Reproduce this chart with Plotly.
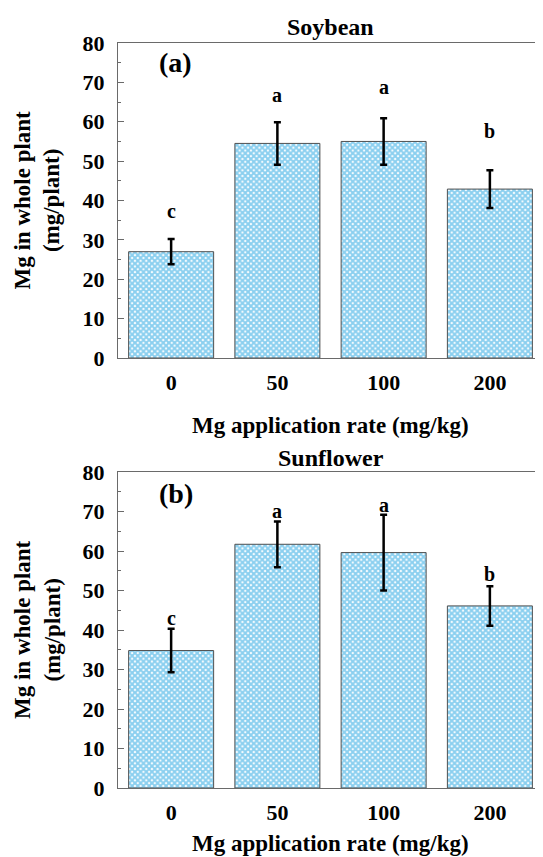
import plotly.graph_objects as go
from plotly.subplots import make_subplots

categories = ["0", "50", "100", "200"]
soy_values = [27.0, 54.5, 55.0, 42.9]
soy_errors = [3.2, 5.4, 5.9, 4.8]
soy_letters = ["c", "a", "a", "b"]
soy_letter_y = [36.7, 66.2, 68.3, 57.1]

sun_values = [34.8, 61.7, 59.6, 46.1]
sun_errors = [5.5, 5.8, 9.6, 5.0]
sun_letters = ["c", "a", "a", "b"]
sun_letter_y = [42.6, 69.6, 71.1, 53.6]

panel_titles = ["Soybean", "Sunflower"]
panel_tags = ["(a)", "(b)"]
y_ticks = [0, 10, 20, 30, 40, 50, 60, 70, 80]
x_title = "Mg application rate (mg/kg)"
y_title = "Mg in whole plant<br>(mg/plant)"

FONT = "Liberation Serif"
OFF = 8  # page body margin
W, H = 543 - OFF, 857 - OFF
L, R, T = 118 - OFF, 0, 43 - OFF
B = H - (788 - OFF)
plot_h = H - T - B

def py(pix):
    return (H - B - (pix - OFF)) / plot_h

def px(pix):
    return (pix - OFF - L) / (W - L - R)

fig = make_subplots(rows=2, cols=1, vertical_spacing=0.0)

top_dom = [py(358), 1.0]
bot_dom = [0.0, py(472)]

for i, (vals, errs) in enumerate([(soy_values, soy_errors), (sun_values, sun_errors)]):
    fig.add_trace(go.Bar(
        x=categories, y=vals,
        marker=dict(
            color="white",
            line=dict(color="#505050", width=1),
            pattern=dict(shape="x", fgcolor="#169fe0", bgcolor="white", size=4, solidity=0.75),
        ),
        error_y=dict(type="data", array=errs, visible=True, color="black", thickness=2.5, width=3.5),
        showlegend=False,
    ), row=i + 1, col=1)

axis_common = dict(
    showline=True, linecolor="#6a6a6a", linewidth=1, mirror=True,
    showgrid=False, zeroline=False,
)

for r in (1, 2):
    fig.update_xaxes(
        range=[-0.5, 3.5], ticks="",
        tickfont=dict(family=FONT, size=22, color="black", weight="bold"),
        ticklabelstandoff=5,
        row=r, col=1, **axis_common)
    fig.update_yaxes(
        range=[0, 80], tickvals=y_ticks, ticks="inside", ticklen=6, tickcolor="#6a6a6a",
        minor=dict(ticks="inside", ticklen=3, dtick=5, tickcolor="#6a6a6a"),
        tickfont=dict(family=FONT, size=22, color="black", weight="bold"),
        ticklabelstandoff=8,
        row=r, col=1, **axis_common)

fig.update_layout(
    width=W, height=H,
    margin=dict(l=L, r=R, t=T, b=B),
    paper_bgcolor="white", plot_bgcolor="white",
    bargap=0.2,
    yaxis=dict(domain=top_dom),
    yaxis2=dict(domain=bot_dom),
    font=dict(family=FONT, color="black"),
)

ann = []
for i, letters, ly in [(0, soy_letters, soy_letter_y), (1, sun_letters, sun_letter_y)]:
    xr = "x" if i == 0 else "x2"
    yr = "y" if i == 0 else "y2"
    for k, (t, y) in enumerate(zip(letters, ly)):
        ann.append(dict(x=k, y=y, xref=xr, yref=yr, text=t, showarrow=False, yshift=2,
                        font=dict(family=FONT, size=20, color="black", weight="bold")))

bold = lambda s: dict(family=FONT, size=s, color="black", weight="bold")
# panel titles
ann.append(dict(x=0.5, y=py(27), xref="paper", yref="paper", text=panel_titles[0], showarrow=False,
                font=bold(24), yanchor="middle"))
ann.append(dict(x=0.5, y=py(458), xref="paper", yref="paper", text=panel_titles[1], showarrow=False,
                font=bold(24), yanchor="middle"))
# panel tags
ann.append(dict(x=px(157), y=py(63), xref="paper", yref="paper", text=panel_tags[0], showarrow=False,
                font=bold(28), yanchor="middle"))
ann.append(dict(x=px(157), y=py(493), xref="paper", yref="paper", text=panel_tags[1], showarrow=False,
                font=bold(28), yanchor="middle"))
# x titles
ann.append(dict(x=0.5, y=py(425), xref="paper", yref="paper", text=x_title, showarrow=False,
                font=bold(23), yanchor="middle"))
ann.append(dict(x=0.5, y=py(843), xref="paper", yref="paper", text=x_title, showarrow=False,
                font=bold(23), yanchor="middle"))
# y titles
for cy in [(43 + 358) / 2, (472 + 788) / 2]:
    ann.append(dict(x=px(37), y=py(cy), xref="paper", yref="paper", text=y_title, showarrow=False,
                    textangle=-90, xanchor="center", yanchor="middle", font=bold(23)))

fig.update_layout(annotations=ann)
fig.write_html("out.html")
